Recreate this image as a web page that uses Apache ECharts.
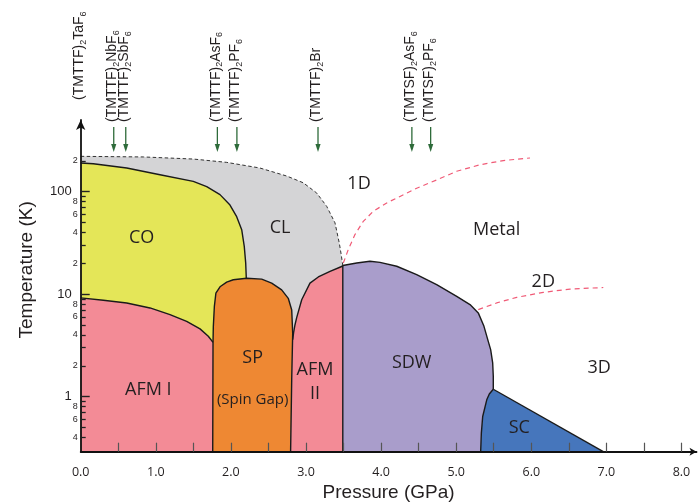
<!DOCTYPE html>
<html>
<head>
<meta charset="utf-8">
<script src="https://cdn.jsdelivr.net/npm/echarts@6/dist/echarts.min.js"></script>
<style>
  html, body { margin: 0; padding: 0; background: #fff; }
  #chart { width: 700px; height: 502px; }
</style>
</head>
<body>
<div id="chart"></div>
<script>
// ---- Axis ticks ----
const pressureLabels = [0, 1, 2, 3, 4, 5, 6, 7, 8];
const pressureTicks = [0.5, 1, 1.5, 2, 2.5, 3, 3.5, 4, 4.5, 5, 5.5, 6, 6.5, 7, 7.5, 8];
const tempDecades = [1, 10, 100];
const tempMinorTicks = [0.4, 0.5, 0.6, 0.7, 0.8, 0.9, 2, 3, 4, 5, 6, 7, 8, 9,
                        20, 30, 40, 50, 60, 70, 80, 90, 200];
const tempMinorLabels = [0.4, 0.6, 0.8, 2, 4, 6, 8, 20, 40, 60, 80, 200];

// ---- Phase boundaries: [pressure (GPa), temperature (K)] ----
const clTop = [[0, 221], [0.834, 218], [1.499, 208], [1.944, 193], [2.387, 170],
  [2.743, 142], [2.964, 122], [3.142, 97], [3.276, 71.8], [3.386, 49.6],
  [3.443, 31.6], [3.47, 24], [3.49, 19.0]];
const coTop = [[0, 190.5], [0.168, 187], [0.613, 170], [1.056, 146], [1.499, 126],
  [1.678, 112], [1.855, 93.5], [1.988, 74], [2.077, 57], [2.144, 42.5],
  [2.178, 29.2], [2.197, 20.2], [2.205, 14.3]];
const afmITop = [[0, 9.18], [0.301, 8.71], [0.613, 8.2], [0.923, 7.33], [1.189, 6.31],
  [1.411, 5.43], [1.589, 4.58], [1.699, 3.88], [1.762, 3.38]];
const spOutline = [[1.758, 0.29], [1.762, 3.38], [1.766, 4.8], [1.78, 7.6], [1.80, 10.2],
  [1.855, 11.8], [1.944, 13.1], [2.032, 13.8], [2.21, 14.3], [2.41, 14.0],
  [2.543, 12.8], [2.676, 11.0], [2.764, 9.1], [2.81, 7.0], [2.823, 4.15],
  [2.81, 1.5], [2.795, 0.29]];
const afmIIEdge = [[2.823, 3.6], [2.835, 4.2], [2.853, 5.0], [2.876, 5.9], [2.943, 8.8],
  [3.053, 12.8], [3.164, 14.7], [3.32, 16.7], [3.475, 18.6], [3.49, 19.0]];
const sdwLeftEdge = [[3.49, 0.29], [3.49, 19.0]];
const sdwTop = [[3.49, 19.0], [3.675, 20.1], [3.852, 20.9], [3.985, 20.4], [4.208, 18.7],
  [4.474, 15.5], [4.740, 12.4], [5.007, 9.52], [5.184, 7.9], [5.294, 6.56],
  [5.370, 4.85], [5.427, 3.46], [5.459, 2.87], [5.486, 2.13], [5.494, 1.58],
  [5.494, 1.18]];
const scLeft = [[5.494, 1.18], [5.441, 1.06], [5.407, 0.93], [5.353, 0.64],
  [5.335, 0.44], [5.326, 0.29]];
const scRight = [[5.494, 1.18], [6.959, 0.29]];

// Crossovers between 1D, 2D and 3D metallic regimes
const crossover1D = [[3.497, 20.1], [3.563, 27.2], [3.652, 38.1], [3.763, 51.3],
  [3.896, 64.3], [4.075, 77.6], [4.252, 89.8], [4.474, 108], [4.740, 130],
  [5.007, 158], [5.317, 183], [5.627, 201], [5.983, 213]];
const crossover2D = [[5.294, 7.06], [5.539, 8.2], [5.806, 9.3], [6.160, 10.4],
  [6.516, 11.2], [6.959, 11.6]];

// ---- Phase names placed at [pressure, temperature] ----
const phaseNames = ['CO', 'CL', '1D', 'Metal', '2D', '3D', 'SDW', 'SC', 'AFM I', 'SP', 'AFM\nII'];
const phaseP = [0.812, 2.654, 3.706, 5.539, 6.16, 6.905, 4.407, 5.84, 0.90, 2.29, 3.12];
const phaseT = [35.1, 44.2, 118, 42.3, 13.2, 1.89, 2.12, 0.492, 1.16, 2.37, 1.39];
const noteName = ['(Spin Gap)'];
const noteP = [2.29];
const noteT = [0.93];

// ---- Compounds at ambient pressure positions ----
const compoundLabels = ['(TMTTF){s|2}TaF{s|6}', '(TMTTF){s|2}NbF{s|6}', '(TMTTF){s|2}SbF{s|6}',
  '(TMTTF){s|2}AsF{s|6}', '(TMTTF){s|2}PF{s|6}', '(TMTTF){s|2}Br',
  '(TMTSF){s|2}AsF{s|6}', '(TMTSF){s|2}PF{s|6}'];
const compoundP = [0, 0.44, 0.60, 1.82, 2.08, 3.16, 4.41, 4.66];

const T_MIN = 0.29, T_MAX = 500, P_MAX = 8.2;
const INK = '#231f20';
const REGION_FONT = '"Open Sans", "Noto Sans", sans-serif';
const AXIS_FONT = '"Liberation Sans", Arial, sans-serif';

const base = (p) => [p, T_MIN];

function regionSeries(pts, fill) {
  return {
    type: 'custom', coordinateSystem: 'cartesian2d', silent: true, z: 2,
    data: pts,
    renderItem(params, api) {
      if (params.dataIndex !== 0) return null;
      return {
        type: 'polygon',
        shape: { points: pts.map(p => api.coord(p)) },
        style: { fill: fill, stroke: null }
      };
    }
  };
}

function boundarySeries(pts, color, width, dash, z) {
  return {
    type: 'custom', coordinateSystem: 'cartesian2d', silent: true, z: z || 3,
    data: pts,
    renderItem(params, api) {
      if (params.dataIndex !== 0) return null;
      return {
        type: 'polyline',
        shape: { points: pts.map(p => api.coord(p)) },
        style: { stroke: color, lineWidth: width, fill: null, lineDash: dash || null, lineJoin: 'round' }
      };
    }
  };
}

const regions = [
  regionSeries(clTop.concat([base(3.49), base(0)]), '#d4d4d6'),
  regionSeries(coTop.concat([base(2.205), base(0)]), '#e4e658'),
  regionSeries([base(0)].concat(afmITop, [base(1.762)]), '#f38b96'),
  regionSeries(spOutline, '#ee8833'),
  regionSeries([base(2.795), [2.81, 1.5]].concat(afmIIEdge, [base(3.49)]), '#f38b96'),
  regionSeries([base(3.49)].concat(sdwTop, scLeft.slice(1)), '#a99dcb'),
  regionSeries(scLeft.concat([[6.959, 0.29]]), '#4676bc')
];

const boundaries = [
  boundarySeries(clTop, '#333', 1, [3.5, 2.5]),
  boundarySeries(coTop, '#1a1a1a', 1.4),
  boundarySeries(afmITop, '#1a1a1a', 1.4),
  boundarySeries(spOutline, '#1a1a1a', 1.4),
  boundarySeries(afmIIEdge, '#1a1a1a', 1.4),
  boundarySeries(sdwLeftEdge, '#1a1a1a', 1.4),
  boundarySeries(sdwTop, '#1a1a1a', 1.4),
  boundarySeries(scLeft, '#1a1a1a', 1.4),
  boundarySeries(scRight, '#1a1a1a', 1.4),
  boundarySeries(crossover1D, '#f05a76', 1.2, [5, 4], 4),
  boundarySeries(crossover2D, '#f05a76', 1.2, [5, 4], 4)
];

function textSeries(names, ps, ts, fontSize, lineHeight) {
  return {
    type: 'custom', coordinateSystem: 'cartesian2d', silent: true, z: 6,
    data: names.map((n, i) => [ps[i], ts[i]]),
    renderItem(params, api) {
      const c = api.coord([ps[params.dataIndex], ts[params.dataIndex]]);
      return {
        type: 'text', x: c[0], y: c[1],
        style: {
          text: names[params.dataIndex], fill: INK,
          fontFamily: REGION_FONT, fontSize: fontSize, lineHeight: lineHeight,
          align: 'center', verticalAlign: 'middle'
        }
      };
    }
  };
}

const compoundSeries = {
  type: 'custom', coordinateSystem: 'cartesian2d', silent: true, z: 6,
  data: compoundP.map(p => [p, T_MAX]),
  renderItem(params, api) {
    const i = params.dataIndex;
    const x = api.coord([compoundP[i], T_MAX])[0];
    const top = params.coordSys.y;
    const onAxis = compoundP[i] === 0;
    const children = [{
      type: 'text', x: x - 1.5, y: onAxis ? top - 20 : top + 2, rotation: Math.PI / 2,
      style: {
        text: compoundLabels[i], fill: INK, fontFamily: AXIS_FONT, fontSize: 14,
        lineHeight: 17, align: 'left', verticalAlign: 'middle',
        rich: { s: { fontFamily: AXIS_FONT, fontSize: 9, verticalAlign: 'bottom', fill: INK } }
      }
    }];
    if (!onAxis) {
      const green = '#2e6b3a';
      children.push({
        type: 'line', shape: { x1: x, y1: top + 7, x2: x, y2: top + 26 },
        style: { stroke: green, lineWidth: 1.3 }
      });
      children.push({
        type: 'polygon',
        shape: { points: [[x - 2.6, top + 24], [x + 2.6, top + 24], [x, top + 32]] },
        style: { fill: green }
      });
    }
    return { type: 'group', children: children };
  }
};

const chart = echarts.init(document.getElementById('chart'), null, { renderer: 'canvas' });
chart.setOption({
  animation: false,
  backgroundColor: '#fff',
  grid: { left: 80.7, right: 3.5, top: 120, bottom: 50.3, containLabel: false, outerBoundsMode: 'none' },
  xAxis: {
    type: 'value', min: 0, max: P_MAX, z: 10,
    name: 'Pressure (GPa)', nameLocation: 'middle', nameGap: 28,
    nameTextStyle: { fontFamily: AXIS_FONT, fontSize: 19, color: INK },
    splitLine: { show: false },
    axisLine: { onZero: false, symbol: ['none', 'arrow'], symbolSize: [6, 7],
      lineStyle: { color: '#111', width: 1.8 } },
    axisTick: { inside: true, length: 9, customValues: pressureTicks,
      lineStyle: { color: '#555', width: 1.2 } },
    axisLabel: { customValues: pressureLabels, margin: 14, formatter: v => Number(v).toFixed(1),
      fontFamily: REGION_FONT, fontSize: 12.5, color: INK }
  },
  yAxis: [{
    type: 'log', logBase: 10, min: T_MIN, max: T_MAX, z: 10, position: 'left',
    name: 'Temperature (K)', nameLocation: 'middle', nameGap: 44,
    nameTextStyle: { fontFamily: AXIS_FONT, fontSize: 19, color: INK, padding: [0, 0, 0, 32] },
    splitLine: { show: false },
    axisLine: { onZero: false, symbol: ['none', 'arrow'], symbolSize: [7, 10],
      lineStyle: { color: '#111', width: 1.8 } },
    axisTick: { inside: true, length: 9, customValues: tempDecades,
      lineStyle: { color: '#222', width: 1.4 } },
    axisLabel: { customValues: tempDecades, margin: 9, formatter: v => String(Math.round(v)),
      fontFamily: AXIS_FONT, fontSize: 13, color: INK }
  }, {
    type: 'log', logBase: 10, min: T_MIN, max: T_MAX, z: 10, position: 'left',
    splitLine: { show: false },
    axisLine: { show: false, onZero: false },
    axisTick: { inside: true, length: 5, customValues: tempMinorTicks,
      lineStyle: { color: '#222', width: 1.3 } },
    axisLabel: {
      customValues: tempMinorLabels, margin: 3,
      formatter: v => String(Math.round(v / Math.pow(10, Math.floor(Math.log10(v) + 1e-9)))),
      fontFamily: AXIS_FONT, fontSize: 9, color: INK
    }
  }],
  series: regions.concat(boundaries, [
    textSeries(phaseNames, phaseP, phaseT, 18, 24),
    textSeries(noteName, noteP, noteT, 15, 18),
    compoundSeries
  ])
});
</script>
</body>
</html>
